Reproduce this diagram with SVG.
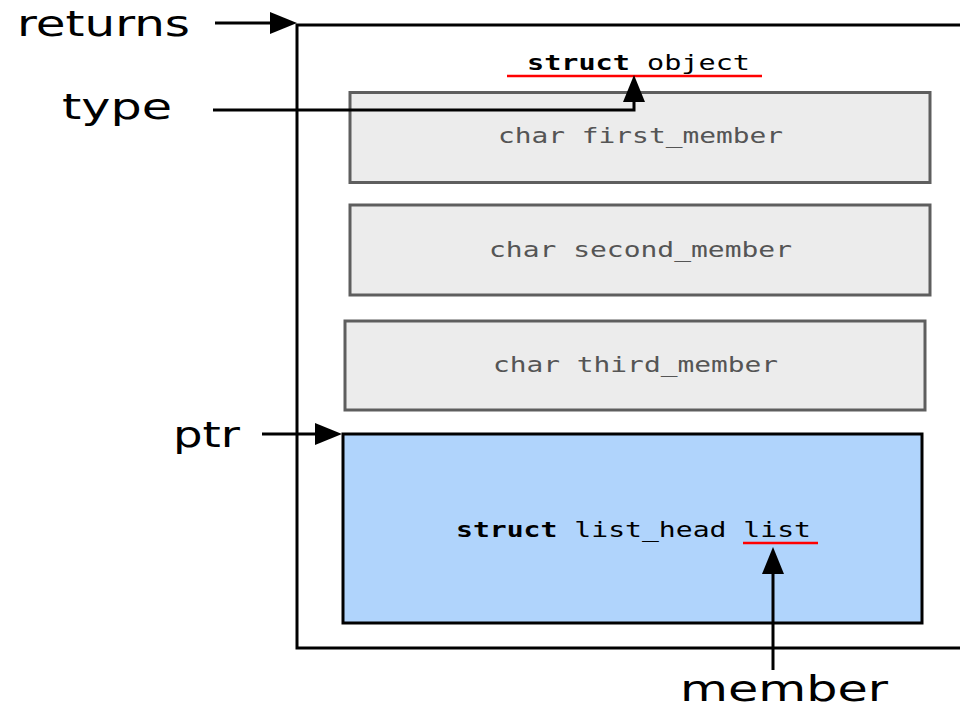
<svg xmlns="http://www.w3.org/2000/svg" width="960" height="708" viewBox="0 0 960 708">
<style>
.lbl{font-family:"DejaVu Sans","Liberation Sans",sans-serif;font-size:36px;fill:#000}
.mono{font-family:"DejaVu Sans Mono","Liberation Mono",monospace;font-size:21px}
.gray{fill:#ececec;stroke:#5e5e5e;stroke-width:3}
.gtxt{fill:#555}
.btxt{fill:#000}
.conn{fill:none;stroke:#000;stroke-width:3}
.red{stroke:#f00;stroke-width:2.5}
</style>
<defs>
<marker id="ah" markerUnits="userSpaceOnUse" markerWidth="27" markerHeight="22" viewBox="0 0 27 22" refX="17" refY="11" orient="auto">
<path d="M0,0 L27,11 L0,22 z" fill="#000"/>
</marker>
</defs>
<rect width="960" height="708" fill="#fff"/>
<g id="object">
<rect x="297" y="25" width="700" height="623" fill="#fff" stroke="#000" stroke-width="3"/>
<text class="mono btxt" x="527" y="70" textLength="223" lengthAdjust="spacingAndGlyphs"><tspan font-weight="bold">struct</tspan> object</text>
<line class="red" x1="507" y1="76" x2="762" y2="76"/>
</g>
<g id="first_member">
<rect class="gray" x="350" y="92.5" width="580" height="90"/>
<text class="mono gtxt" x="498" y="143" textLength="285" lengthAdjust="spacingAndGlyphs">char first_member</text>
</g>
<g id="second_member">
<rect class="gray" x="350" y="205" width="580" height="90"/>
<text class="mono gtxt" x="489" y="257" textLength="303" lengthAdjust="spacingAndGlyphs">char second_member</text>
</g>
<g id="third_member">
<rect class="gray" x="345" y="321" width="580" height="89"/>
<text class="mono gtxt" x="493" y="372" textLength="285" lengthAdjust="spacingAndGlyphs">char third_member</text>
</g>
<g id="list">
<rect x="343" y="434" width="579" height="189" fill="#b0d4fc" stroke="#000" stroke-width="3"/>
<text class="mono btxt" x="456" y="537" textLength="355" lengthAdjust="spacingAndGlyphs"><tspan font-weight="bold">struct</tspan> list_head list</text>
<line class="red" x1="743" y1="543" x2="818" y2="543"/>
</g>
<g id="labels">
<text id="returns" class="lbl" x="17" y="36" textLength="173" lengthAdjust="spacingAndGlyphs">returns</text>
<text id="type" class="lbl" x="62" y="119" textLength="110" lengthAdjust="spacingAndGlyphs">type</text>
<text id="ptr" class="lbl" x="173" y="447" textLength="67" lengthAdjust="spacingAndGlyphs">ptr</text>
<text id="member" class="lbl" x="680" y="701" font-size="34" textLength="208" lengthAdjust="spacingAndGlyphs">member</text>
</g>
<g id="connectors">
<path class="conn" d="M215,23 H287" marker-end="url(#ah)"/>
<path class="conn" d="M213,110 H634 V85" marker-end="url(#ah)"/>
<path class="conn" d="M262,434 H332" marker-end="url(#ah)"/>
<path class="conn" d="M773,670 V557" marker-end="url(#ah)"/>
</g>
</svg>
